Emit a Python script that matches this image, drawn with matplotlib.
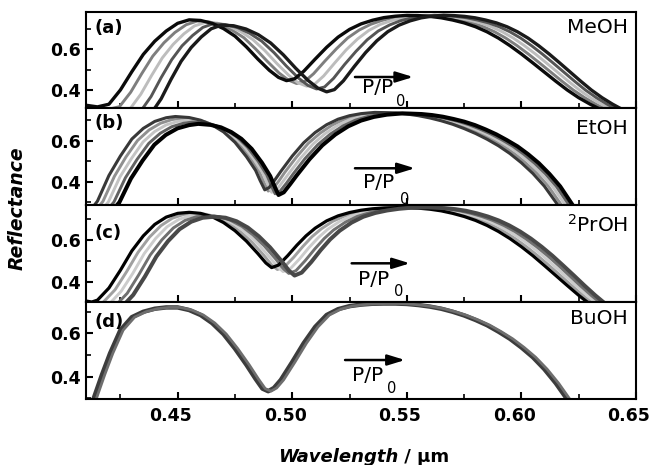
import matplotlib
matplotlib.use("Agg")
import matplotlib.pyplot as plt
from matplotlib.ticker import FixedLocator, FormatStrFormatter

plt.rcParams["font.family"] = ["DejaVu Sans"]

# ---------------- panel (a) MeOH ----------------
a_tail_y = [0.766, 0.762, 0.755, 0.744, 0.730, 0.711, 0.686, 0.655, 0.618, 0.577,
            0.533, 0.488, 0.443, 0.400, 0.362, 0.330, 0.302, 0.280, 0.255]
a1_x = [0.410, 0.415, 0.420, 0.425, 0.430, 0.435, 0.440, 0.445, 0.450, 0.455, 0.460, 0.465, 0.470,
        0.475, 0.480, 0.485, 0.490, 0.494, 0.4975, 0.501, 0.505, 0.510, 0.515, 0.520, 0.525, 0.530,
        0.535, 0.540, 0.545, 0.550, 0.555, 0.560, 0.565, 0.570, 0.575, 0.580, 0.585, 0.590, 0.595,
        0.600, 0.605, 0.610, 0.615, 0.620, 0.625, 0.630, 0.635, 0.640, 0.650]
a1_y = [0.325, 0.317, 0.330, 0.400, 0.490, 0.575, 0.640, 0.690, 0.728, 0.745, 0.742, 0.728, 0.702,
        0.665, 0.612, 0.552, 0.497, 0.462, 0.446, 0.455, 0.492, 0.552, 0.610, 0.660, 0.698, 0.725,
        0.743, 0.756, 0.763, 0.767] + a_tail_y
a2_x = [0.4100, 0.4198, 0.4246, 0.4295, 0.4343, 0.4391, 0.4440, 0.4488, 0.4537, 0.4585, 0.4636, 0.4687,
        0.4738, 0.4789, 0.4840, 0.4891, 0.4942, 0.4983, 0.5019, 0.5054, 0.5093, 0.5143, 0.5193, 0.5242,
        0.5292, 0.5342, 0.5391, 0.5441, 0.5490, 0.5540, 0.5589, 0.5638, 0.5687, 0.5736, 0.5785, 0.5834,
        0.5883, 0.5932, 0.5981, 0.6030, 0.6079, 0.6128, 0.6177, 0.6226, 0.6276, 0.6325, 0.6374, 0.6423,
        0.6521]
a2_y = [0.315, 0.305, 0.318, 0.389, 0.480, 0.566, 0.632, 0.683, 0.721, 0.739, 0.735, 0.721, 0.694,
        0.657, 0.602, 0.541, 0.484, 0.449, 0.432, 0.442, 0.480, 0.543, 0.603, 0.656, 0.695, 0.723,
        0.742, 0.756, 0.763, 0.767] + a_tail_y
a3_x = [0.4100, 0.4245, 0.4292, 0.4339, 0.4386, 0.4433, 0.4480, 0.4527, 0.4573, 0.4620, 0.4672, 0.4724,
        0.4776, 0.4828, 0.4881, 0.4933, 0.4985, 0.5026, 0.5063, 0.5097, 0.5137, 0.5186, 0.5235, 0.5285,
        0.5334, 0.5383, 0.5432, 0.5482, 0.5531, 0.5580, 0.5628, 0.5676, 0.5724, 0.5772, 0.5821, 0.5869,
        0.5917, 0.5965, 0.6013, 0.6061, 0.6109, 0.6157, 0.6205, 0.6253, 0.6301, 0.6349, 0.6397, 0.6445,
        0.6541]
a3_y = [0.305, 0.294, 0.307, 0.379, 0.471, 0.558, 0.624, 0.676, 0.715, 0.732, 0.729, 0.714, 0.687,
        0.648, 0.593, 0.530, 0.472, 0.435, 0.419, 0.428, 0.469, 0.534, 0.597, 0.651, 0.693, 0.722,
        0.741, 0.756, 0.763, 0.768] + a_tail_y
a4_x = [0.4100, 0.4293, 0.4338, 0.4384, 0.4428, 0.4474, 0.4519, 0.4565, 0.4610, 0.4655, 0.4708, 0.4761,
        0.4814, 0.4867, 0.4921, 0.4974, 0.5027, 0.5069, 0.5106, 0.5141, 0.5180, 0.5228, 0.5278, 0.5327,
        0.5375, 0.5425, 0.5473, 0.5522, 0.5571, 0.5620, 0.5667, 0.5714, 0.5761, 0.5808, 0.5856, 0.5903,
        0.5950, 0.5997, 0.6044, 0.6091, 0.6138, 0.6185, 0.6232, 0.6279, 0.6327, 0.6374, 0.6421, 0.6468,
        0.6562]
a4_y = [0.295, 0.282, 0.295, 0.368, 0.461, 0.549, 0.617, 0.668, 0.708, 0.726, 0.722, 0.707, 0.679,
        0.640, 0.583, 0.518, 0.459, 0.422, 0.405, 0.415, 0.457, 0.525, 0.590, 0.647, 0.690, 0.720,
        0.741, 0.755, 0.763, 0.768] + a_tail_y
a5_x = [0.4100, 0.4340, 0.4384, 0.4428, 0.4471, 0.4515, 0.4559, 0.4603, 0.4646, 0.4690, 0.4744, 0.4798,
        0.4852, 0.4906, 0.4961, 0.5015, 0.5069, 0.5112, 0.5150, 0.5184, 0.5223, 0.5271, 0.5320, 0.5369,
        0.5417, 0.5466, 0.5514, 0.5563, 0.5611, 0.5660, 0.5706, 0.5752, 0.5798, 0.5844, 0.5891, 0.5937,
        0.5983, 0.6029, 0.6075, 0.6121, 0.6167, 0.6213, 0.6259, 0.6305, 0.6352, 0.6398, 0.6444, 0.6490,
        0.6582]
a5_y = [0.285, 0.270, 0.284, 0.357, 0.452, 0.541, 0.609, 0.661, 0.701, 0.719, 0.716, 0.700, 0.672,
        0.631, 0.573, 0.507, 0.447, 0.409, 0.391, 0.402, 0.445, 0.516, 0.584, 0.642, 0.687, 0.719,
        0.740, 0.755, 0.763, 0.768] + a_tail_y

# ---------------- panel (b) EtOH ----------------
b1_x = [0.410, 0.415, 0.420, 0.425, 0.430, 0.435, 0.440, 0.445, 0.449, 0.455, 0.460, 0.465, 0.470,
        0.475, 0.480, 0.484, 0.486, 0.488, 0.490, 0.4925, 0.495, 0.500, 0.505, 0.510, 0.515, 0.520,
        0.525, 0.530, 0.536, 0.540, 0.545, 0.550, 0.555, 0.560, 0.565, 0.570, 0.575, 0.580, 0.585,
        0.590, 0.595, 0.600, 0.605, 0.610, 0.615, 0.620]
b1_y = [0.232, 0.305, 0.430, 0.525, 0.608, 0.660, 0.694, 0.712, 0.718, 0.713, 0.700, 0.677, 0.643,
        0.592, 0.522, 0.455, 0.405, 0.360, 0.372, 0.410, 0.450, 0.525, 0.590, 0.640, 0.678, 0.705,
        0.722, 0.732, 0.738, 0.737, 0.735, 0.730, 0.722, 0.711, 0.697, 0.680, 0.659, 0.635, 0.607,
        0.575, 0.537, 0.492, 0.440, 0.378, 0.300, 0.220]
b2_x = [0.4124, 0.4174, 0.4224, 0.4274, 0.4325, 0.4375, 0.4425, 0.4475, 0.4515, 0.4574, 0.4622, 0.4671,
        0.4720, 0.4768, 0.4817, 0.4856, 0.4876, 0.4895, 0.4916, 0.4942, 0.4967, 0.5019, 0.5070, 0.5122,
        0.5174, 0.5225, 0.5277, 0.5328, 0.5390, 0.5429, 0.5479, 0.5528, 0.5577, 0.5626, 0.5675, 0.5724,
        0.5773, 0.5823, 0.5872, 0.5921, 0.5970, 0.6019, 0.6068, 0.6117, 0.6166, 0.6216]
b2_y = [0.232, 0.304, 0.426, 0.520, 0.601, 0.652, 0.685, 0.703, 0.709, 0.704, 0.691, 0.668, 0.635,
        0.584, 0.515, 0.448, 0.398, 0.354, 0.366, 0.404, 0.445, 0.521, 0.587, 0.637, 0.676, 0.703,
        0.721, 0.731, 0.737, 0.736, 0.734, 0.729, 0.721, 0.710, 0.696, 0.679, 0.658, 0.634, 0.606,
        0.574, 0.536, 0.491, 0.440, 0.378, 0.300, 0.220]
b3_x = [0.4148, 0.4198, 0.4248, 0.4299, 0.4349, 0.4399, 0.4450, 0.4500, 0.4540, 0.4597, 0.4645, 0.4692,
        0.4739, 0.4787, 0.4834, 0.4872, 0.4891, 0.4910, 0.4932, 0.4958, 0.4985, 0.5038, 0.5091, 0.5144,
        0.5197, 0.5250, 0.5303, 0.5357, 0.5420, 0.5459, 0.5507, 0.5555, 0.5604, 0.5652, 0.5700, 0.5749,
        0.5797, 0.5845, 0.5893, 0.5942, 0.5990, 0.6038, 0.6086, 0.6135, 0.6183, 0.6231]
b3_y = [0.232, 0.302, 0.423, 0.514, 0.594, 0.644, 0.677, 0.694, 0.700, 0.695, 0.682, 0.660, 0.626,
        0.576, 0.507, 0.441, 0.392, 0.348, 0.360, 0.399, 0.440, 0.517, 0.584, 0.635, 0.674, 0.702,
        0.719, 0.729, 0.736, 0.735, 0.733, 0.728, 0.720, 0.709, 0.695, 0.678, 0.657, 0.633, 0.605,
        0.573, 0.536, 0.491, 0.439, 0.377, 0.300, 0.220]
b4_x = [0.4171, 0.4222, 0.4272, 0.4323, 0.4374, 0.4424, 0.4474, 0.4525, 0.4565, 0.4621, 0.4667, 0.4713,
        0.4759, 0.4805, 0.4851, 0.4888, 0.4907, 0.4925, 0.4947, 0.4975, 0.5002, 0.5056, 0.5111, 0.5166,
        0.5221, 0.5275, 0.5330, 0.5385, 0.5450, 0.5488, 0.5536, 0.5583, 0.5630, 0.5677, 0.5725, 0.5773,
        0.5820, 0.5868, 0.5915, 0.5962, 0.6009, 0.6057, 0.6104, 0.6152, 0.6199, 0.6247]
b4_y = [0.232, 0.301, 0.419, 0.509, 0.587, 0.636, 0.668, 0.685, 0.691, 0.686, 0.673, 0.651, 0.618,
        0.568, 0.500, 0.434, 0.385, 0.341, 0.354, 0.393, 0.435, 0.513, 0.580, 0.632, 0.672, 0.700,
        0.718, 0.728, 0.734, 0.733, 0.731, 0.726, 0.718, 0.707, 0.694, 0.677, 0.656, 0.632, 0.604,
        0.573, 0.535, 0.490, 0.439, 0.377, 0.300, 0.220]
b5_x = [0.4195, 0.4246, 0.4296, 0.4347, 0.4398, 0.4448, 0.4499, 0.4550, 0.4590, 0.4644, 0.4689, 0.4734,
        0.4778, 0.4823, 0.4868, 0.4904, 0.4922, 0.4940, 0.4963, 0.4991, 0.5019, 0.5075, 0.5131, 0.5188,
        0.5244, 0.5300, 0.5356, 0.5413, 0.5480, 0.5517, 0.5564, 0.5610, 0.5657, 0.5703, 0.5750, 0.5797,
        0.5843, 0.5890, 0.5936, 0.5983, 0.6029, 0.6076, 0.6122, 0.6169, 0.6215, 0.6262]
b5_y = [0.232, 0.300, 0.415, 0.503, 0.580, 0.628, 0.660, 0.676, 0.682, 0.677, 0.665, 0.642, 0.609,
        0.560, 0.492, 0.427, 0.379, 0.335, 0.348, 0.388, 0.430, 0.509, 0.577, 0.630, 0.670, 0.698,
        0.716, 0.727, 0.733, 0.732, 0.730, 0.725, 0.717, 0.706, 0.693, 0.676, 0.655, 0.631, 0.603,
        0.572, 0.534, 0.490, 0.438, 0.377, 0.300, 0.220]

# ---------------- panel (c) 2PrOH ----------------
c_tail_y = [0.753, 0.748, 0.740, 0.728, 0.713, 0.694, 0.670, 0.641, 0.607, 0.568, 0.525, 0.478,
            0.430, 0.382, 0.335, 0.292, 0.255]
c1_x = [0.410, 0.4125, 0.415, 0.420, 0.425, 0.430, 0.435, 0.440, 0.445, 0.450, 0.455, 0.460, 0.465,
        0.470, 0.475, 0.480, 0.485, 0.4885, 0.491, 0.494, 0.498, 0.502, 0.506, 0.510, 0.515, 0.520,
        0.525, 0.530, 0.535, 0.540, 0.547, 0.555, 0.560, 0.565, 0.570, 0.575, 0.580, 0.585, 0.590,
        0.595, 0.600, 0.605, 0.610, 0.615, 0.620, 0.625, 0.630, 0.635]
c1_y = [0.308, 0.303, 0.312, 0.370, 0.455, 0.548, 0.620, 0.675, 0.710, 0.728, 0.733, 0.728, 0.712,
        0.684, 0.645, 0.595, 0.535, 0.490, 0.468, 0.480, 0.525, 0.575, 0.620, 0.657, 0.692, 0.716,
        0.732, 0.743, 0.750, 0.754, 0.756] + c_tail_y
c2_x = [0.4100, 0.4151, 0.4176, 0.4227, 0.4277, 0.4327, 0.4377, 0.4427, 0.4477, 0.4527, 0.4578, 0.4627,
        0.4677, 0.4727, 0.4776, 0.4826, 0.4876, 0.4910, 0.4935, 0.4965, 0.5006, 0.5046, 0.5086, 0.5127,
        0.5177, 0.5228, 0.5278, 0.5329, 0.5379, 0.5430, 0.5500, 0.5579, 0.5628, 0.5677, 0.5727, 0.5776,
        0.5825, 0.5874, 0.5924, 0.5973, 0.6022, 0.6071, 0.6121, 0.6170, 0.6219, 0.6268, 0.6317, 0.6367]
c2_y = [0.299, 0.294, 0.303, 0.362, 0.448, 0.541, 0.614, 0.669, 0.705, 0.723, 0.728, 0.723, 0.706,
        0.678, 0.638, 0.588, 0.527, 0.481, 0.459, 0.471, 0.517, 0.569, 0.616, 0.654, 0.690, 0.715,
        0.731, 0.743, 0.750, 0.754, 0.756] + c_tail_y
c3_x = [0.4100, 0.4178, 0.4203, 0.4253, 0.4304, 0.4354, 0.4404, 0.4454, 0.4505, 0.4555, 0.4605, 0.4655,
        0.4704, 0.4753, 0.4802, 0.4852, 0.4901, 0.4936, 0.4960, 0.4991, 0.5032, 0.5072, 0.5113, 0.5154,
        0.5205, 0.5255, 0.5306, 0.5357, 0.5408, 0.5459, 0.5530, 0.5608, 0.5656, 0.5705, 0.5753, 0.5802,
        0.5850, 0.5899, 0.5947, 0.5996, 0.6044, 0.6093, 0.6141, 0.6190, 0.6238, 0.6286, 0.6335, 0.6383]
c3_y = [0.291, 0.286, 0.295, 0.354, 0.440, 0.535, 0.608, 0.664, 0.699, 0.717, 0.723, 0.717, 0.701,
        0.672, 0.632, 0.580, 0.518, 0.472, 0.449, 0.462, 0.510, 0.563, 0.611, 0.651, 0.688, 0.714,
        0.731, 0.743, 0.750, 0.754, 0.756] + c_tail_y
c4_x = [0.4100, 0.4204, 0.4229, 0.4280, 0.4330, 0.4380, 0.4431, 0.4481, 0.4532, 0.4582, 0.4633, 0.4682,
        0.4730, 0.4780, 0.4828, 0.4877, 0.4927, 0.4961, 0.4985, 0.5016, 0.5057, 0.5098, 0.5139, 0.5180,
        0.5232, 0.5283, 0.5334, 0.5386, 0.5437, 0.5489, 0.5560, 0.5636, 0.5684, 0.5732, 0.5780, 0.5827,
        0.5875, 0.5923, 0.5971, 0.6018, 0.6066, 0.6114, 0.6162, 0.6209, 0.6256, 0.6304, 0.6352, 0.6400]
c4_y = [0.282, 0.277, 0.286, 0.345, 0.433, 0.528, 0.601, 0.658, 0.694, 0.712, 0.717, 0.712, 0.695,
        0.666, 0.625, 0.573, 0.510, 0.463, 0.440, 0.453, 0.502, 0.557, 0.607, 0.648, 0.686, 0.713,
        0.730, 0.742, 0.750, 0.755, 0.757] + c_tail_y
c5_x = [0.4100, 0.4230, 0.4255, 0.4306, 0.4357, 0.4407, 0.4458, 0.4508, 0.4559, 0.4609, 0.4660, 0.4709,
        0.4757, 0.4806, 0.4854, 0.4903, 0.4952, 0.4986, 0.5010, 0.5041, 0.5083, 0.5124, 0.5165, 0.5207,
        0.5259, 0.5310, 0.5362, 0.5414, 0.5466, 0.5518, 0.5590, 0.5665, 0.5712, 0.5759, 0.5806, 0.5853,
        0.5900, 0.5947, 0.5994, 0.6041, 0.6088, 0.6135, 0.6182, 0.6229, 0.6275, 0.6322, 0.6369, 0.6416]
c5_y = [0.273, 0.268, 0.277, 0.337, 0.425, 0.521, 0.595, 0.652, 0.688, 0.707, 0.712, 0.707, 0.690,
        0.660, 0.618, 0.565, 0.501, 0.453, 0.430, 0.444, 0.495, 0.552, 0.603, 0.645, 0.684, 0.712,
        0.730, 0.742, 0.750, 0.755, 0.757] + c_tail_y

# ---------------- panel (d) BuOH ----------------
d_y = [0.210, 0.295, 0.410, 0.508, 0.615, 0.675, 0.700, 0.714, 0.720, 0.720, 0.708, 0.685, 0.648,
       0.597, 0.530, 0.455, 0.390, 0.345, 0.333, 0.348, 0.385, 0.468, 0.555, 0.630, 0.685, 0.712,
       0.726, 0.733, 0.737, 0.738, 0.738, 0.736, 0.731, 0.724, 0.714, 0.700, 0.683, 0.662, 0.638,
       0.608, 0.575, 0.535, 0.490, 0.435, 0.370, 0.295, 0.220]
d1_x = [0.410, 0.4132, 0.417, 0.4205, 0.425, 0.430, 0.435, 0.440, 0.445, 0.450, 0.455, 0.460, 0.465,
        0.470, 0.475, 0.480, 0.484, 0.487, 0.4895, 0.492, 0.495, 0.500, 0.505, 0.510, 0.515, 0.520,
        0.525, 0.530, 0.535, 0.540, 0.545, 0.550, 0.555, 0.560, 0.565, 0.570, 0.575, 0.580, 0.585,
        0.590, 0.595, 0.600, 0.605, 0.610, 0.615, 0.620, 0.625]
d2_x = [0.4112, 0.4144, 0.4182, 0.4217, 0.4262, 0.4312, 0.4362, 0.4412, 0.4462, 0.4512, 0.4562, 0.4612,
        0.4662, 0.4712, 0.4762, 0.4812, 0.4852, 0.4882, 0.4907, 0.4932, 0.4962, 0.5012, 0.5062, 0.5112,
        0.5162, 0.5212, 0.5262, 0.5312, 0.5362, 0.5412, 0.5462, 0.5512, 0.5562, 0.5612, 0.5662, 0.5712,
        0.5762, 0.5812, 0.5862, 0.5912, 0.5962, 0.6012, 0.6062, 0.6112, 0.6162, 0.6212, 0.6262]

x_major = [0.45, 0.50, 0.55, 0.60, 0.65]
x_minor = [0.425, 0.475, 0.525, 0.575, 0.625]
y_major = [0.4, 0.6]
y_minor = [0.3, 0.5, 0.7]

panels = [
    dict(curves=[(a2_x, a2_y), (a3_x, a3_y), (a4_x, a4_y), (a1_x, a1_y), (a5_x, a5_y)],
         colors=["#7e7e7e", "#bdbdbd", "#555555", "#0a0a0a", "#1a1a1a"],
         widths=[2.1, 2.1, 2.1, 2.4, 2.4],
         ylim=(0.31, 0.782), tag="(a)", tag_y=0.84, name="MeOH", name_y=0.845,
         arrow=(0.489, 0.595, 0.326), pp=(0.502, 0.217), sub=(0.573, 0.076)),
    dict(curves=[(b2_x, b2_y), (b3_x, b3_y), (b4_x, b4_y), (b1_x, b1_y), (b5_x, b5_y)],
         colors=["#909090", "#c4c4c4", "#626262", "#383838", "#000000"],
         widths=[2.1, 2.1, 2.1, 2.2, 2.9],
         ylim=(0.286, 0.758), tag="(b)", tag_y=0.853, name="EtOH", name_y=0.796,
         arrow=(0.489, 0.598, 0.380), pp=(0.504, 0.233), sub=(0.579, 0.057)),
    dict(curves=[(c2_x, c2_y), (c3_x, c3_y), (c4_x, c4_y), (c1_x, c1_y), (c5_x, c5_y)],
         colors=["#a0a0a0", "#cccccc", "#707070", "#000000", "#484848"],
         widths=[2.1, 2.1, 2.1, 2.3, 2.9],
         ylim=(0.303, 0.768), tag="(c)", tag_y=0.71, name=r"$^{\mathregular{2}}$PrOH", name_y=0.794,
         arrow=(0.483, 0.589, 0.399), pp=(0.495, 0.227), sub=(0.568, 0.108)),
    dict(curves=[(d1_x, d_y), (d2_x, d_y)],
         colors=["#3c3c3c", "#6e6e6e"],
         widths=[3.2, 2.0],
         ylim=(0.297, 0.745), tag="(d)", tag_y=0.79, name="BuOH", name_y=0.835,
         arrow=(0.471, 0.580, 0.402), pp=(0.484, 0.242), sub=(0.555, 0.108)),
]

fig = plt.figure(figsize=(6.52, 4.65), dpi=100)
left, width = 0.1319, 0.8436
edges = [0.9735, 0.7671, 0.5591, 0.3505, 0.1419]

for i, p in enumerate(panels):
    ax = fig.add_axes([left, edges[i + 1], width, edges[i] - edges[i + 1]])
    for (xs, ys), c, lw in zip(p["curves"], p["colors"], p["widths"]):
        ax.plot(xs, ys, color=c, lw=lw, solid_joinstyle="round", solid_capstyle="round")
    ax.set_xlim(0.41, 0.65)
    ax.set_ylim(*p["ylim"])
    ax.xaxis.set_major_locator(FixedLocator(x_major))
    ax.xaxis.set_minor_locator(FixedLocator(x_minor))
    ax.yaxis.set_major_locator(FixedLocator(y_major))
    ax.yaxis.set_minor_locator(FixedLocator(y_minor))
    ax.yaxis.set_major_formatter(FormatStrFormatter("%.1f"))
    ax.tick_params(which="both", direction="in", top=False, right=False)
    ax.tick_params(which="major", length=5, width=1.5)
    ax.tick_params(which="minor", length=3.5, width=1.2)
    ax.tick_params(axis="y", pad=4)
    ax.tick_params(axis="x", labelbottom=False)
    for lab in ax.get_yticklabels():
        lab.set_fontweight("bold")
        lab.set_fontsize(12.5)
    for s in ax.spines.values():
        s.set_linewidth(1.5)
    if i == 3:
        # x tick labels sit slightly left of their ticks in the original figure
        for v in x_major:
            ax.annotate("%.2f" % v, xy=(v, 0), xycoords=("data", "axes fraction"),
                        xytext=(-7, -8), textcoords="offset pixels", ha="center", va="top",
                        fontsize=12.5, fontweight="bold", annotation_clip=False)
    ax.text(0.015, p["tag_y"], p["tag"], transform=ax.transAxes, fontsize=13,
            fontweight="bold", ha="left", va="center")
    ax.text(0.985, p["name_y"], p["name"], transform=ax.transAxes, fontsize=14.5,
            ha="right", va="center")
    x0, x1, ya = p["arrow"]
    ax.annotate("", xy=(x1, ya), xytext=(x0, ya), xycoords="axes fraction",
                textcoords="axes fraction",
                arrowprops=dict(arrowstyle="-|>,head_length=0.65,head_width=0.2",
                                color="black", lw=1.8, mutation_scale=16,
                                shrinkA=0, shrinkB=0))
    ax.text(p["pp"][0], p["pp"][1], "P/P", transform=ax.transAxes, fontsize=14.5,
            ha="left", va="center")
    ax.text(p["sub"][0], p["sub"][1], "0", transform=ax.transAxes, fontsize=10.5,
            ha="center", va="center")

fig.text(0.027, 0.553, "Reflectance", rotation=90, fontsize=13.5, fontweight="bold",
         fontstyle="italic", ha="center", va="center")
fig.text(0.6104, 0.006, "Wavelength", fontsize=13, fontweight="bold", fontstyle="italic",
         ha="right", va="baseline")
fig.text(0.6104, 0.006, " / \u03bcm", fontsize=13, fontweight="bold",
         ha="left", va="baseline")

fig.savefig("out.png", dpi=100)
